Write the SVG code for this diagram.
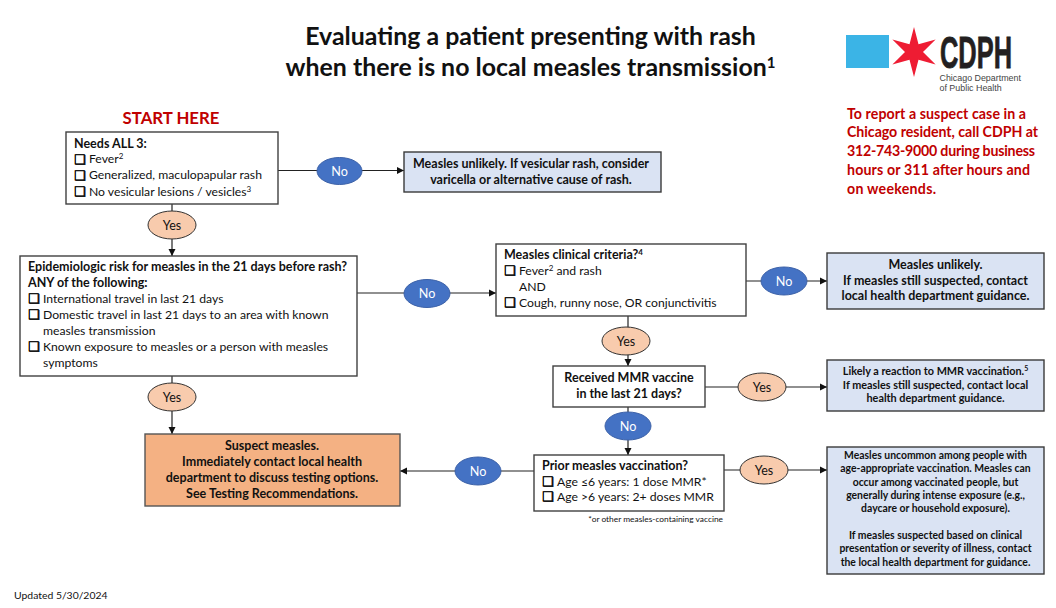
<svg xmlns="http://www.w3.org/2000/svg" width="1056" height="608" viewBox="0 0 1056 608">
<style>
text{font-family:"Lato","Carlito","Open Sans",sans-serif;font-size:12.2px;fill:#111}
.b{font-weight:700;font-size:12.5px}
.c{text-anchor:middle}
.box{fill:#fff;stroke:#404040;stroke-width:1.4}
.blue{fill:#DAE3F3;stroke:#3a3a3a;stroke-width:1.4}
.org{fill:#F4B183;stroke:#555;stroke-width:1.4}
.no{fill:#4472C4;stroke:#3d62a8;stroke-width:1}
.no+text{fill:#fff;font-size:12.6px}
.yes{fill:#F8CBAD;stroke:#333;stroke-width:1}
.e{font-size:12.5px}
.ck{font-family:"DejaVu Sans",sans-serif;font-size:13px;fill:#000;stroke:#000;stroke-width:.55}
.sup{font-size:8px;baseline-shift:4px}
.red{fill:#C00000;font-weight:700;font-size:14.2px}
.s11{font-size:10.4px}
.s12{font-size:10.85px}
.title{font-size:24.9px}
.logo{font-family:"Liberation Sans",sans-serif;font-size:8.9px;fill:#444}
#connectors path{fill:none;stroke:#222;stroke-width:1.2}
</style>
<defs>
<marker id="arr" markerUnits="userSpaceOnUse" markerWidth="8" markerHeight="8" refX="7" refY="4" orient="auto"><path d="M0,0.5 L7,4 L0,7.5Z" fill="#111"/></marker>
</defs>

<g id="title">
<text class="b c title" x="530.5" y="45">Evaluating a patient presenting with rash</text>
<text class="b c title" x="530.5" y="76">when there is no local measles transmission<tspan style="font-size:15px;baseline-shift:8px">1</tspan></text>
</g>

<g id="logo">
<rect x="846" y="35" width="43" height="33" fill="#3BB4E6"/>
<polygon fill="#EE1C33" points="914,27 918.5,44.2 935.6,39.5 923,52 935.6,64.5 918.5,59.8 914,77 909.5,59.8 892.4,64.5 905,52 892.4,39.5 909.5,44.2"/>
<text transform="translate(940,67.5) scale(.565,1)" x="0" y="0" style="font-family:'Liberation Sans',sans-serif;font-weight:700;font-size:45px;fill:#231F20;stroke:#231F20;stroke-width:.8">CDPH</text>
<text class="logo" x="939.5" y="81">Chicago Department</text>
<text class="logo" x="939.5" y="91">of Public Health</text>
</g>

<g id="report">
<text class="red" x="847" y="119" textLength="179">To report a suspect case in a</text>
<text class="red" x="847" y="137" textLength="191">Chicago resident, call CDPH at</text>
<text class="red" x="847" y="156" textLength="188">312-743-9000 during business</text>
<text class="red" x="847" y="175" textLength="183">hours or 311 after hours and</text>
<text class="red" x="847" y="194" textLength="89">on weekends.</text>
</g>

<text id="start" class="red c" x="171" y="124" style="font-size:16.8px">START HERE</text>

<g id="connectors">
<path d="M278,170.5H404" marker-end="url(#arr)"/>
<path d="M172,204V256" marker-end="url(#arr)"/>
<path d="M357,293H496" marker-end="url(#arr)"/>
<path d="M172,376V434" marker-end="url(#arr)"/>
<path d="M746,281H827" marker-end="url(#arr)"/>
<path d="M628,316V366" marker-end="url(#arr)"/>
<path d="M705,387H827" marker-end="url(#arr)"/>
<path d="M628,407V455" marker-end="url(#arr)"/>
<path d="M724,470H827" marker-end="url(#arr)"/>
<path d="M534,471H400" marker-end="url(#arr)"/>
</g>

<g id="n-needs">
<rect class="box" x="66" y="132" width="212" height="72"/>
<text class="b" x="74" y="148">Needs ALL 3:</text>
<text class="ck" x="74" y="164">❑</text><text x="89" y="163">Fever<tspan class="sup">2</tspan></text>
<text class="ck" x="74" y="180">❑</text><text x="89" y="179">Generalized, maculopapular rash</text>
<text class="ck" x="74" y="196">❑</text><text x="89" y="196">No vesicular lesions / vesicles<tspan class="sup">3</tspan></text>
</g>

<g id="n-unlikely-vesicular">
<rect class="blue" x="404" y="152" width="257" height="40"/>
<text class="b c" x="531" y="168">Measles unlikely. If vesicular rash, consider</text>
<text class="b c" x="531" y="184">varicella or alternative cause of rash.</text>
</g>

<g id="n-epi">
<rect class="box" x="20" y="256" width="337" height="120"/>
<text class="b" x="28" y="271">Epidemiologic risk for measles in the 21 days before rash?</text>
<text class="b" x="28" y="287">ANY of the following:</text>
<text class="ck" x="28" y="303">❑</text><text x="43" y="303">International travel in last 21 days</text>
<text class="ck" x="28" y="319">❑</text><text x="43" y="319">Domestic travel in last 21 days to an area with known</text>
<text x="43" y="335">measles transmission</text>
<text class="ck" x="28" y="351">❑</text><text x="43" y="351">Known exposure to measles or a person with measles</text>
<text x="43" y="367">symptoms</text>
</g>

<g id="n-clinical">
<rect class="box" x="496" y="244" width="250" height="72"/>
<text class="b" x="504" y="259">Measles clinical criteria?<tspan class="sup">4</tspan></text>
<text class="ck" x="504" y="275">❑</text><text x="519" y="275">Fever<tspan class="sup">2</tspan> and rash</text>
<text x="519" y="291">AND</text>
<text class="ck" x="504" y="307">❑</text><text x="519" y="307">Cough, runny nose, OR conjunctivitis</text>
</g>

<g id="n-unlikely">
<rect class="blue" x="827" y="253" width="217" height="56"/>
<text class="b c" x="935.5" y="269">Measles unlikely.</text>
<text class="b c" x="935.5" y="285">If measles still suspected, contact</text>
<text class="b c" x="935.5" y="300">local health department guidance.</text>
</g>

<g id="n-mmr">
<rect class="box" x="553" y="366" width="152" height="41"/>
<text class="b c" x="629" y="382">Received MMR vaccine</text>
<text class="b c" x="629" y="398">in the last 21 days?</text>
</g>

<g id="n-likely">
<rect class="blue" x="827" y="360" width="217" height="51"/>
<text class="b c s12" x="935.5" y="375">Likely a reaction to MMR vaccination.<tspan class="sup" style="font-size:7px">5</tspan></text>
<text class="b c s12" x="935.5" y="389">If measles still suspected, contact local</text>
<text class="b c s12" x="935.5" y="402">health department guidance.</text>
</g>

<g id="n-prior">
<rect class="box" x="534" y="455" width="190" height="56"/>
<text class="b" x="542" y="470">Prior measles vaccination?</text>
<text class="ck" x="542" y="486">❑</text><text x="557" y="486">Age ≤6 years: 1 dose MMR*</text>
<text class="ck" x="542" y="501">❑</text><text x="557" y="501">Age &gt;6 years: 2+ doses MMR</text>
</g>
<text id="footnote" x="723" y="522" style="font-size:8.4px;text-anchor:end">*or other measles-containing vaccine</text>

<g id="n-suspect">
<rect class="org" x="145" y="434" width="255" height="72"/>
<text class="b c" x="272" y="450">Suspect measles.</text>
<text class="b c" x="272" y="466">Immediately contact local health</text>
<text class="b c" x="272" y="482">department to discuss testing options.</text>
<text class="b c" x="272" y="498">See Testing Recommendations.</text>
</g>

<g id="n-uncommon">
<rect class="blue" x="827" y="447" width="217" height="127"/>
<text class="b c s11" x="935.5" y="459">Measles uncommon among people with</text>
<text class="b c s11" x="935.5" y="472">age-appropriate vaccination. Measles can</text>
<text class="b c s11" x="935.5" y="486">occur among vaccinated people, but</text>
<text class="b c s11" x="935.5" y="499">generally during intense exposure (e.g.,</text>
<text class="b c s11" x="935.5" y="512">daycare or household exposure).</text>
<text class="b c s11" x="935.5" y="539">If measles suspected based on clinical</text>
<text class="b c s11" x="935.5" y="552">presentation or severity of illness, contact</text>
<text class="b c s11" x="935.5" y="566">the local health department for guidance.</text>
</g>

<g id="e-no1"><ellipse class="no" cx="339.5" cy="171" rx="22.5" ry="13.5"/><text class="c" x="339.5" y="175.5">No</text></g>
<g id="e-yes1"><ellipse class="yes" cx="172" cy="225" rx="24" ry="14"/><text class="c e" x="172" y="230">Yes</text></g>
<g id="e-no2"><ellipse class="no" cx="427" cy="293.5" rx="23" ry="14"/><text class="c" x="427" y="298">No</text></g>
<g id="e-yes2"><ellipse class="yes" cx="172" cy="397" rx="24" ry="14"/><text class="c e" x="172" y="401.5">Yes</text></g>
<g id="e-no3"><ellipse class="no" cx="784" cy="281" rx="23" ry="14"/><text class="c" x="784" y="285.5">No</text></g>
<g id="e-yes3"><ellipse class="yes" cx="626" cy="341" rx="24" ry="14"/><text class="c e" x="626" y="345.5">Yes</text></g>
<g id="e-yes4"><ellipse class="yes" cx="762" cy="387" rx="24" ry="14"/><text class="c e" x="762" y="391.5">Yes</text></g>
<g id="e-no4"><ellipse class="no" cx="628" cy="426" rx="23" ry="14"/><text class="c" x="628" y="430.5">No</text></g>
<g id="e-no5"><ellipse class="no" cx="478" cy="471" rx="23" ry="14"/><text class="c" x="478" y="475.5">No</text></g>
<g id="e-yes5"><ellipse class="yes" cx="764" cy="470" rx="24" ry="14"/><text class="c e" x="764" y="474.5">Yes</text></g>

<text id="updated" x="14" y="599" style="font-size:10.4px">Updated 5/30/2024</text>
</svg>
